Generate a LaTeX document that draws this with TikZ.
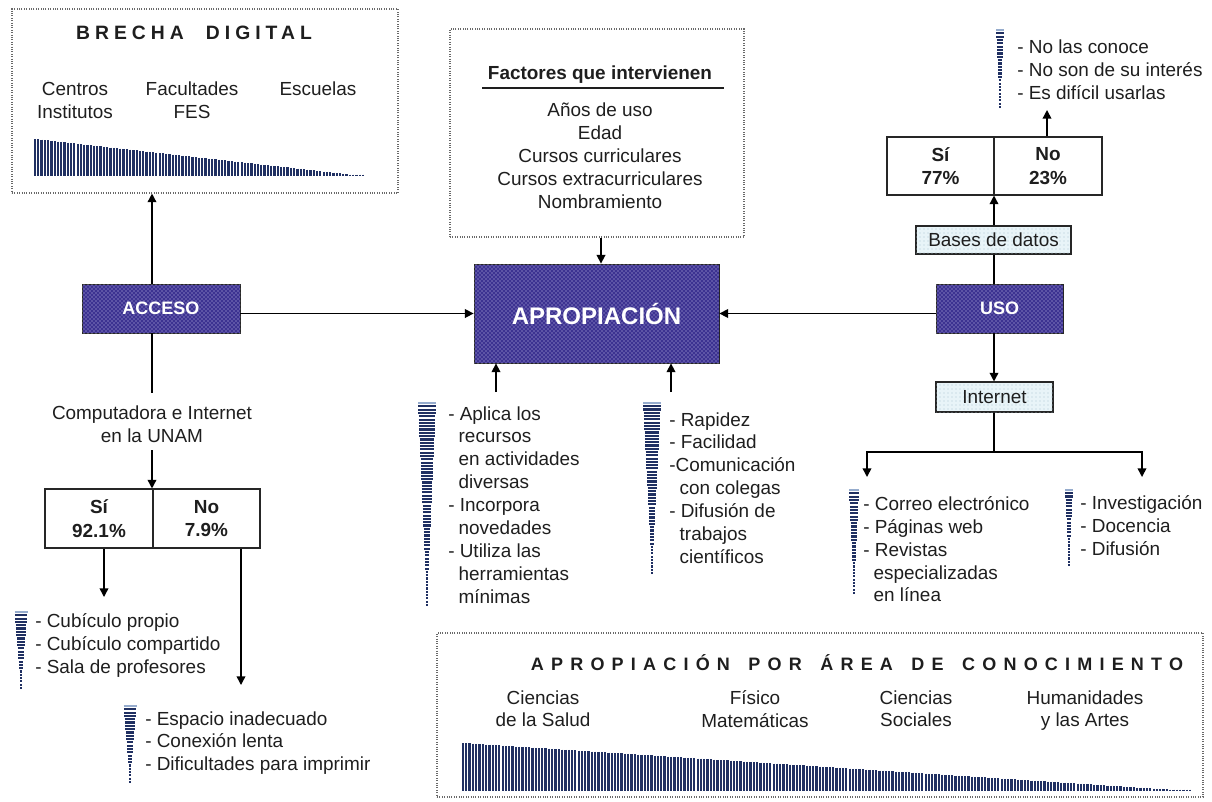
\documentclass[tikz,border=0pt]{standalone}
\usepackage{fontspec}
\setmainfont{Liberation Sans}
\newfontfamily\brechafont[LetterSpace=26]{Liberation Sans}
\newfontfamily\areafont[LetterSpace=40]{Liberation Sans}
\usetikzlibrary{arrows.meta,patterns,fit}

\definecolor{ink}{RGB}{30,30,30}
\definecolor{boxblue}{RGB}{60,50,145}
\definecolor{boxdots}{RGB}{205,200,240}
\definecolor{paleblue}{RGB}{232,244,248}
\definecolor{paledots}{RGB}{175,200,212}
\definecolor{stripe}{RGB}{32,48,98}
\definecolor{stripetop}{RGB}{150,172,205}
\definecolor{frame}{RGB}{105,105,105}

% vertical stripes under a sloping top edge: left x, right x, top y at left, base y, count
\newcommand{\stripebar}[5]{%
  \foreach \i in {0,...,#5}{%
    \pgfmathsetmacro{\wx}{#1+(#2-#1)/#5*\i}%
    \pgfmathsetmacro{\wy}{min(#3+(#4-#3)/#5*\i,#4-1.5)}%
    \draw[hstripe] (\wx,\wy) -- (\wx,#4);
  }}
% tapering stack of horizontal stripes: centre x, top y, bottom y, top width, count
\newcommand{\listmark}[5]{%
  \draw[vstripe, draw=stripetop] (#1-#4/2,#2) -- (#1+#4/2,#2);
  \foreach \i in {1,...,#5}{%
    \pgfmathsetmacro{\wy}{#2+(#3-#2)/#5*\i}%
    \pgfmathsetmacro{\ww}{max(#4*(1-\i/#5),1.3)/2}%
    \draw[vstripe] (#1-\ww,\wy) -- (#1+\ww,\wy);
  }}

\tikzset{
  every node/.style={inner sep=0pt, text=ink},
  size/.style 2 args={minimum width={#1*0.75pt}, minimum height={#2*0.75pt}},
  txt/.style={font=\fontsize{14.2}{17.2}\selectfont},
  lst/.style={txt, align=left, anchor=north west},
  ctr/.style={txt, align=center, anchor=north},
  dotbox/.style={draw=frame, densely dotted, line width=0.8pt},
  darkbox/.style={draw=black!85, line width=0.6pt, fill=boxblue,
    postaction={pattern=crosshatch dots, pattern color=boxdots},
    text=white, font=\bfseries\fontsize{13.5}{16}\selectfont},
  palebox/.style={draw=black!85, line width=0.8pt, fill=paleblue,
    postaction={pattern=dots, pattern color=paledots}, txt},
  cell/.style={draw=black!85, line width=0.8pt, fill=white, align=center,
    font=\bfseries\fontsize{14.2}{17.6}\selectfont},
  arr/.style={draw=black, line width=1.1pt, -{Triangle[length=6.5pt,width=6.5pt]}},
  link/.style={draw=black, line width=1.1pt},
  hstripe/.style={draw=stripe, line width=1.7pt},
  vstripe/.style={draw=stripe, line width=1.6pt},
}

\begin{document}
\begin{tikzpicture}[x=0.75pt, y=-0.75pt]
\useasboundingbox (0,0) rectangle (1212,801);

% ---------- Brecha digital ----------
\node[dotbox, fit={(12,9) (398,193)}] (brecha) {};
\node[font=\brechafont\bfseries\fontsize{14.5}{17}\selectfont] (brechaT) at (194,33) {BRECHA\hspace{0.6em} DIGITAL};
\node[ctr] (centros) at (75,82) {Centros\\Institutos};
\node[ctr] (facult) at (192,82) {Facultades\\FES};
\node[ctr] (escuelas) at (318,82) {Escuelas};
\stripebar{35}{363}{139}{176}{100}

% ---------- Central boxes ----------
\node[darkbox, size={158}{49}] (acceso) at (161,308.5) {ACCESO};
\node[darkbox, size={245}{99}, font=\bfseries\fontsize{18}{20}\selectfont] (apro) at (596.5,313.5) {APROPIACIÓN};
\node[darkbox, size={127}{49}] (uso) at (999.5,308.5) {USO};

% ---------- Factores ----------
\node[dotbox, fit={(450,29) (744,237)}] (factores) {};
\node[txt, font=\bfseries\fontsize{14.2}{17}\selectfont, anchor=base] (factT) at (600,79) {Factores que intervienen};
\draw[ink, line width=0.9pt] (482,88) -- (724,88);
\node[ctr] (factL) at (600,103) {Años de uso\\Edad\\Cursos curriculares\\Cursos extracurriculares\\Nombramiento};

% ---------- Acceso branch ----------
\node[ctr] (comp) at (152,406) {Computadora e Internet\\en la UNAM};
\node[cell, size={108}{59}] (siA) at (99,518.5) {Sí\\92.1\%};
\node[cell, size={107}{59}] (noA) at (206.5,518.5) {No\\7.9\%};
\listmark{21}{612}{688}{13}{23}
\node[lst] (cub) at (35,613) {- Cubículo propio\\- Cubículo compartido\\- Sala de profesores};
\listmark{130}{706}{782}{13}{23}
\node[lst] (esp) at (145,711) {- Espacio inadecuado\\- Conexión lenta\\- Dificultades para imprimir};

% ---------- Lists under APROPIACIÓN ----------
\listmark{427}{403}{605}{18}{61}
\node[lst] (apl) at (448,406) {- Aplica los\\\hspace*{0.55em}recursos\\\hspace*{0.55em}en actividades\\\hspace*{0.55em}diversas\\- Incorpora\\\hspace*{0.55em}novedades\\- Utiliza las\\\hspace*{0.55em}herramientas\\\hspace*{0.55em}mínimas};
\listmark{652}{403}{573}{18}{52}
\node[lst] (rap) at (669,412) {- Rapidez\\- Facilidad\\-Comunicación\\\hspace*{0.55em}con colegas\\- Difusión de\\\hspace*{0.55em}trabajos\\\hspace*{0.55em}científicos};

% ---------- Uso branch ----------
\listmark{1000}{30}{107}{8}{23}
\node[lst] (nolist) at (1017,40) {- No las conoce\\- No son de su interés\\- Es difícil usarlas};
\node[cell, size={107}{58}] (siB) at (940.5,166) {Sí\\77\%};
\node[cell, size={108}{58}] (noB) at (1048,166) {No\\23\%};
\node[palebox, size={155}{28}] (bases) at (993.5,240) {Bases de datos};
\node[palebox, size={117}{30}] (inet) at (994.5,397) {Internet};
\listmark{854}{490}{593}{10}{31}
\node[lst] (webl) at (863,496) {- Correo electrónico\\- Páginas web\\- Revistas\\\hspace*{0.55em}especializadas\\\hspace*{0.55em}en línea};
\listmark{1069}{490}{565}{8}{23}
\node[lst] (usel) at (1080,495) {- Investigación\\- Docencia\\- Difusión};

% ---------- Apropiación por área ----------
\node[dotbox, fit={(437,633) (1203,797)}] (area) {};
\node[font=\areafont\bfseries\fontsize{13.5}{16}\selectfont] (areaT) at (857,663) {APROPIACIÓN\hspace{0.35em} POR\hspace{0.35em} ÁREA\hspace{0.35em} DE\hspace{0.35em} CONOCIMIENTO};
\node[ctr] (salud) at (543,690) {Ciencias\\de la Salud};
\node[ctr] (fisico) at (755,690) {Físico\\Matemáticas};
\node[ctr] (sociales) at (916,690) {Ciencias\\Sociales};
\node[ctr] (human) at (1085,690) {Humanidades\\y las Artes};
\stripebar{463}{1190}{743}{791}{220}

% ---------- Connectors ----------
\coordinate (cA) at (152,0);
\coordinate (cF) at (601,0);
\coordinate (cU) at (994,0);
\coordinate (cSi) at (104,597);
\coordinate (cNo) at (241,685);
\coordinate (cL1) at (496,392);
\coordinate (cL2) at (671,392);
\coordinate (cNB) at (1047,110);
\coordinate (cBr) at (994,452);
\coordinate (cW) at (867,477);
\coordinate (cX) at (1142,477);

\draw[arr] (cA |- acceso.north) -- (cA |- brecha.south);
\draw[link, shorten >=10pt] (cA |- acceso.south) -- (cA |- comp.north);
\draw[arr, shorten <=5pt] (cA |- comp.south) -- (cA |- siA.north);
\draw[arr] (cSi |- siA.south) -- (cSi);
\draw[arr] (cNo |- noA.south) -- (cNo);

\draw[arr] (acceso.east |- apro.west) -- (apro.west);
\draw[arr] (uso.west |- apro.east) -- (apro.east);
\draw[arr] (cF |- factores.south) -- (cF |- apro.north);
\draw[arr] (cL1) -- (cL1 |- apro.south);
\draw[arr] (cL2) -- (cL2 |- apro.south);

\draw[link] (cU |- uso.north) -- (cU |- bases.south);
\draw[arr] (cU |- bases.north) -- (cU |- siB.south);
\draw[arr] (cNB |- noB.north) -- (cNB);
\draw[arr] (cU |- uso.south) -- (cU |- inet.north);
\draw[link] (cU |- inet.south) -- (cBr);
\draw[arr] (cBr) -| (cW);
\draw[arr] (cBr) -| (cX);
\end{tikzpicture}
\end{document}
